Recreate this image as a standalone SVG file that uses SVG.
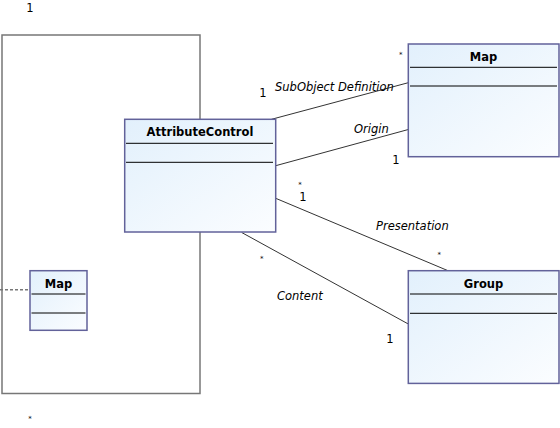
<svg xmlns="http://www.w3.org/2000/svg" width="560" height="428" viewBox="0 0 560 428">
<style>
.cls{stroke:#62629a;stroke-width:1.5;fill:url(#g)}
.sep{stroke:#000;stroke-width:1}
.ttl{font-family:"DejaVu Sans",sans-serif;font-weight:bold;font-size:11.5px;text-anchor:middle;fill:#000}
.lbl{font-family:"DejaVu Sans",sans-serif;font-style:italic;font-size:11.5px;fill:#000}
.num{font-family:"DejaVu Sans",sans-serif;font-size:11.5px;text-anchor:middle;fill:#000}
.ast{font-family:"DejaVu Sans",sans-serif;font-size:7px;text-anchor:middle;fill:#000}
.con{stroke:#333;stroke-width:1;fill:none}
</style>
<defs>
<linearGradient id="g" x1="0" y1="0" x2="1" y2="1">
<stop offset="0" stop-color="#e2f0fc"/>
<stop offset="1" stop-color="#fbfdff"/>
</linearGradient>
</defs>
<rect width="560" height="428" fill="#fff"/>
<g id="boundary">
<rect x="2" y="35" width="198" height="358.5" fill="#fff" stroke="#777" stroke-width="1.5"/>
<text class="num" x="30" y="12">1</text>
<text class="ast" x="30" y="421">*</text>
</g>
<g id="connectors">
<line class="con" x1="271.5" y1="119.3" x2="408.3" y2="82.7"/>
<line class="con" x1="275.7" y1="165.7" x2="408.3" y2="129.5"/>
<line class="con" x1="275.7" y1="198.3" x2="448" y2="270.7"/>
<line class="con" x1="241.7" y1="232.5" x2="408.3" y2="324"/>
<line x1="0" y1="289.7" x2="30" y2="289.7" stroke="#777" stroke-width="1.5" stroke-dasharray="3,2"/>
<text class="lbl" x="275" y="91">SubObject Definition</text>
<text class="lbl" x="354" y="133">Origin</text>
<text class="lbl" x="376" y="230">Presentation</text>
<text class="lbl" x="277" y="300">Content</text>
<text class="num" x="263" y="97">1</text>
<text class="num" x="396" y="164">1</text>
<text class="num" x="303" y="201">1</text>
<text class="num" x="390" y="343">1</text>
<text class="ast" x="400.7" y="57.3">*</text>
<text class="ast" x="300" y="187.3">*</text>
<text class="ast" x="439.3" y="257.3">*</text>
<text class="ast" x="261.7" y="260.7">*</text>
</g>
<g id="AttributeControl">
<rect class="cls" x="124.7" y="119.3" width="151" height="112.7"/>
<line class="sep" x1="126" y1="143.3" x2="273" y2="143.3"/>
<line class="sep" x1="126" y1="162.3" x2="273" y2="162.3"/>
<text class="ttl" x="200" y="136">AttributeControl</text>
</g>
<g id="MapRight">
<rect class="cls" x="408.3" y="44" width="150.7" height="112.7"/>
<line class="sep" x1="410" y1="67.3" x2="557" y2="67.3"/>
<line class="sep" x1="410" y1="86" x2="557" y2="86"/>
<text class="ttl" x="483.5" y="61">Map</text>
</g>
<g id="Group">
<rect class="cls" x="408.3" y="270.7" width="150.7" height="112.7"/>
<line class="sep" x1="410" y1="294" x2="557" y2="294"/>
<line class="sep" x1="410" y1="313.3" x2="557" y2="313.3"/>
<text class="ttl" x="483.5" y="288">Group</text>
</g>
<g id="MapSmall">
<rect class="cls" x="30" y="270.7" width="57" height="59.6"/>
<line class="sep" x1="31.5" y1="294" x2="85.5" y2="294"/>
<line class="sep" x1="31.5" y1="313" x2="85.5" y2="313"/>
<text class="ttl" x="58.5" y="288">Map</text>
</g>
</svg>
